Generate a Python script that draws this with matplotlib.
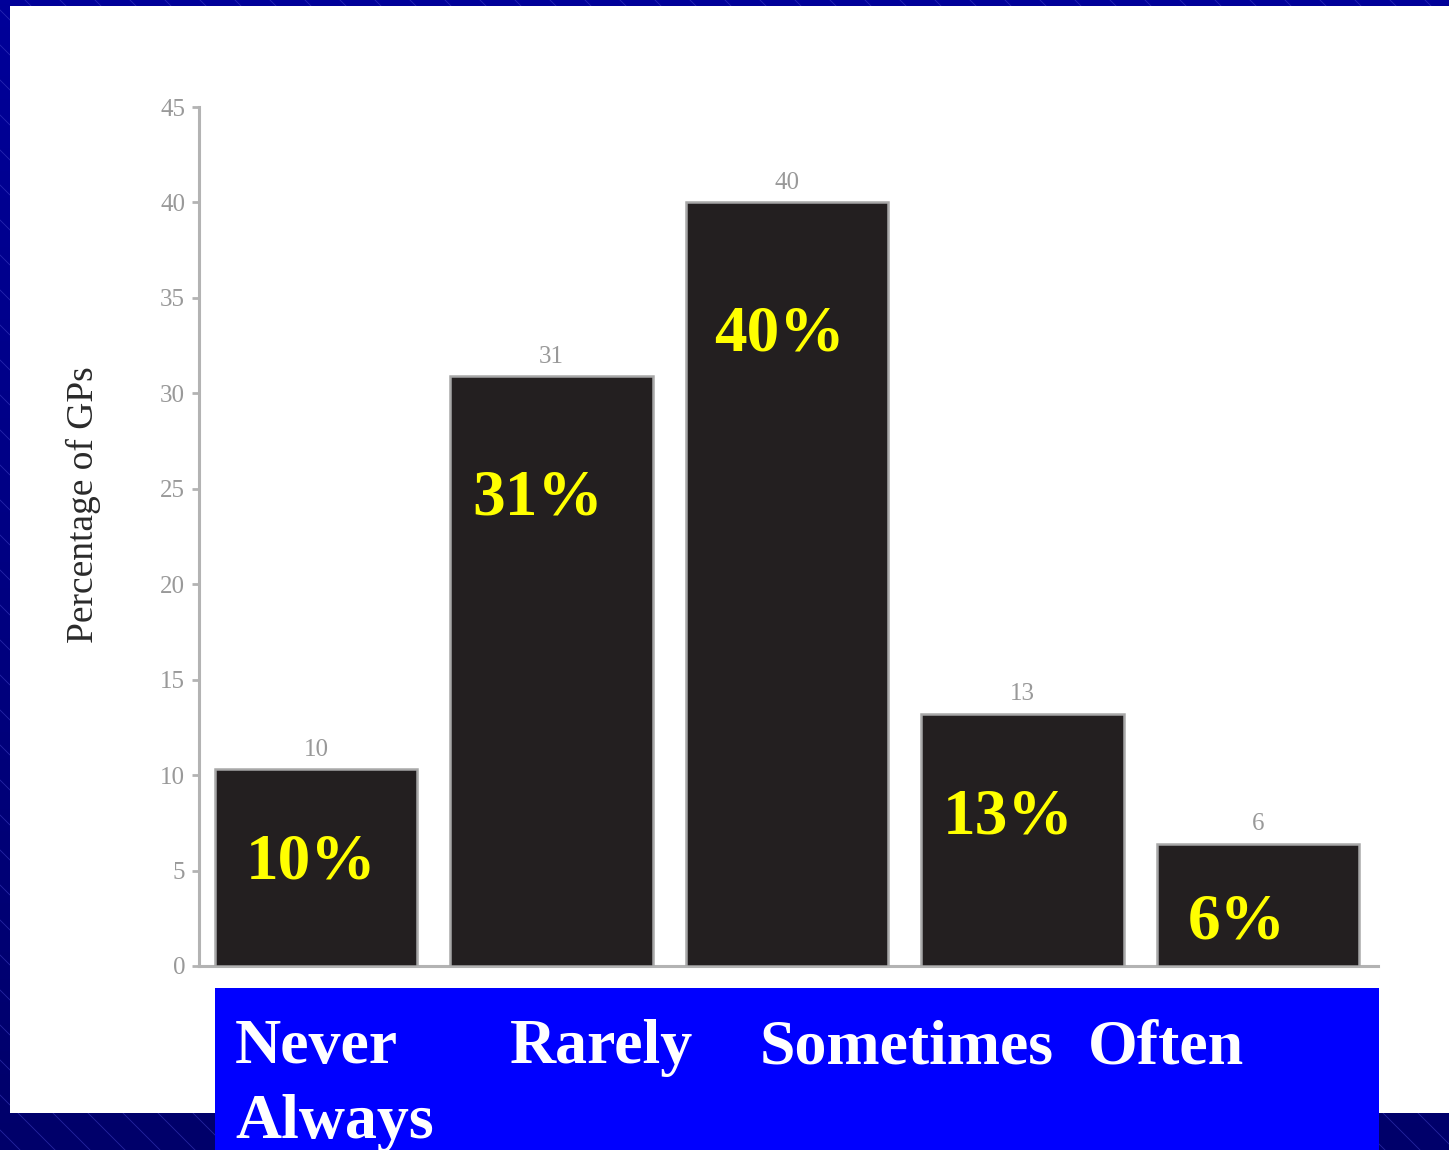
import matplotlib
matplotlib.use("Agg")
import matplotlib.pyplot as plt
import numpy as np
from matplotlib.patches import Rectangle
from matplotlib.colors import LinearSegmentedColormap

# ---- data ----
categories = ["Never", "Rarely", "Sometimes", "Often", "Always"]
heights = [10.3, 30.9, 40.0, 13.2, 6.4]          # bar heights
value_labels = ["10", "31", "40", "13", "6"]
pct_labels = ["10%", "31%", "40%", "13%", "6%"]
yticks = [0, 5, 10, 15, 20, 25, 30, 35, 40, 45]
ytick_labels = ["0", "5", "10", "15", "20", "25", "30", "35", "40", "45"]

# layout for the yellow labels (data coords)
pct_x_offset = [-0.02, -0.06, -0.03, -0.06, -0.09]
pct_y = [5.4, 24.5, 33.1, 7.8, 2.3]

W, H = 1449, 1150
fig = plt.figure(figsize=(W / 100, H / 100), dpi=100)

# ---- background ----
bg = fig.add_axes([0, 0, 1, 1], zorder=-10)
bg.set_xlim(0, W)
bg.set_ylim(H, 0)
bg.axis("off")
grad = np.linspace(0, 1, 256).reshape(-1, 1)
cmap = LinearSegmentedColormap.from_list("nv", ["#000099", "#00006a"])
bg.imshow(grad, cmap=cmap, extent=[0, W, H, 0], aspect="auto", zorder=0)
for off in range(-1200, W + 40, 35):
    bg.plot([off, off + 1200], [0, 1200], color="#4545c8", lw=0.6, alpha=0.55, zorder=1)
bg.add_patch(Rectangle((10, 6), W - 10, 1113 - 6, facecolor="white", edgecolor="none", zorder=2))
bg.add_patch(Rectangle((215, 988), 1379 - 215, H - 988, facecolor="#0000ff", edgecolor="none", zorder=3))

# ---- chart ----
ax = fig.add_axes([199 / W, (H - 966) / H, (1378 - 199) / W, (966 - 107) / H])
ax.set_facecolor("none")
x = np.arange(len(heights))
ax.bar(x, heights, width=0.86, color="#231f20", edgecolor="#a8a8a8", linewidth=1.8, zorder=3)
ax.set_xlim(-0.497, 4.51)
ax.set_ylim(0, 45)

for sp in ["top", "right"]:
    ax.spines[sp].set_visible(False)
for sp in ["left", "bottom"]:
    ax.spines[sp].set_color("#b3b3b3")
    ax.spines[sp].set_linewidth(2.2)

ax.set_xticks([])
ax.set_yticks(yticks)
ax.set_yticklabels(ytick_labels, family="Liberation Serif", fontsize=18, color="#999999")
ax.tick_params(axis="y", length=5, width=2, color="#b3b3b3", pad=5)

ax.set_ylabel("Percentage of GPs", family="Liberation Serif", fontsize=27, color="#2a2a2a")
ax.yaxis.label.set_va("center")
ax.yaxis.set_label_coords((83 - 199) / 1179, (966 - 505) / 859)

for xi, v, lab in zip(x, heights, value_labels):
    ax.text(xi, v + 0.45, lab, ha="center", va="bottom", family="Liberation Serif",
            fontsize=18, color="#999999")

for xi, dx, yy, lab in zip(x, pct_x_offset, pct_y, pct_labels):
    ax.text(xi + dx, yy, lab, ha="center", va="center", family="Liberation Serif",
            fontweight="bold", fontsize=47, color="#ffff00", zorder=5)

# ---- category labels in blue box ----
cat_pos = [(235, 1063), (510, 1063), (760, 1063), (1088, 1063), (235, 1138)]
for (px, py), c in zip(cat_pos, categories):
    bg.text(px, py, c, ha="left", va="baseline", family="Liberation Serif",
            fontweight="bold", fontsize=46, color="white", zorder=5)

fig.savefig("out.png", dpi=100)
